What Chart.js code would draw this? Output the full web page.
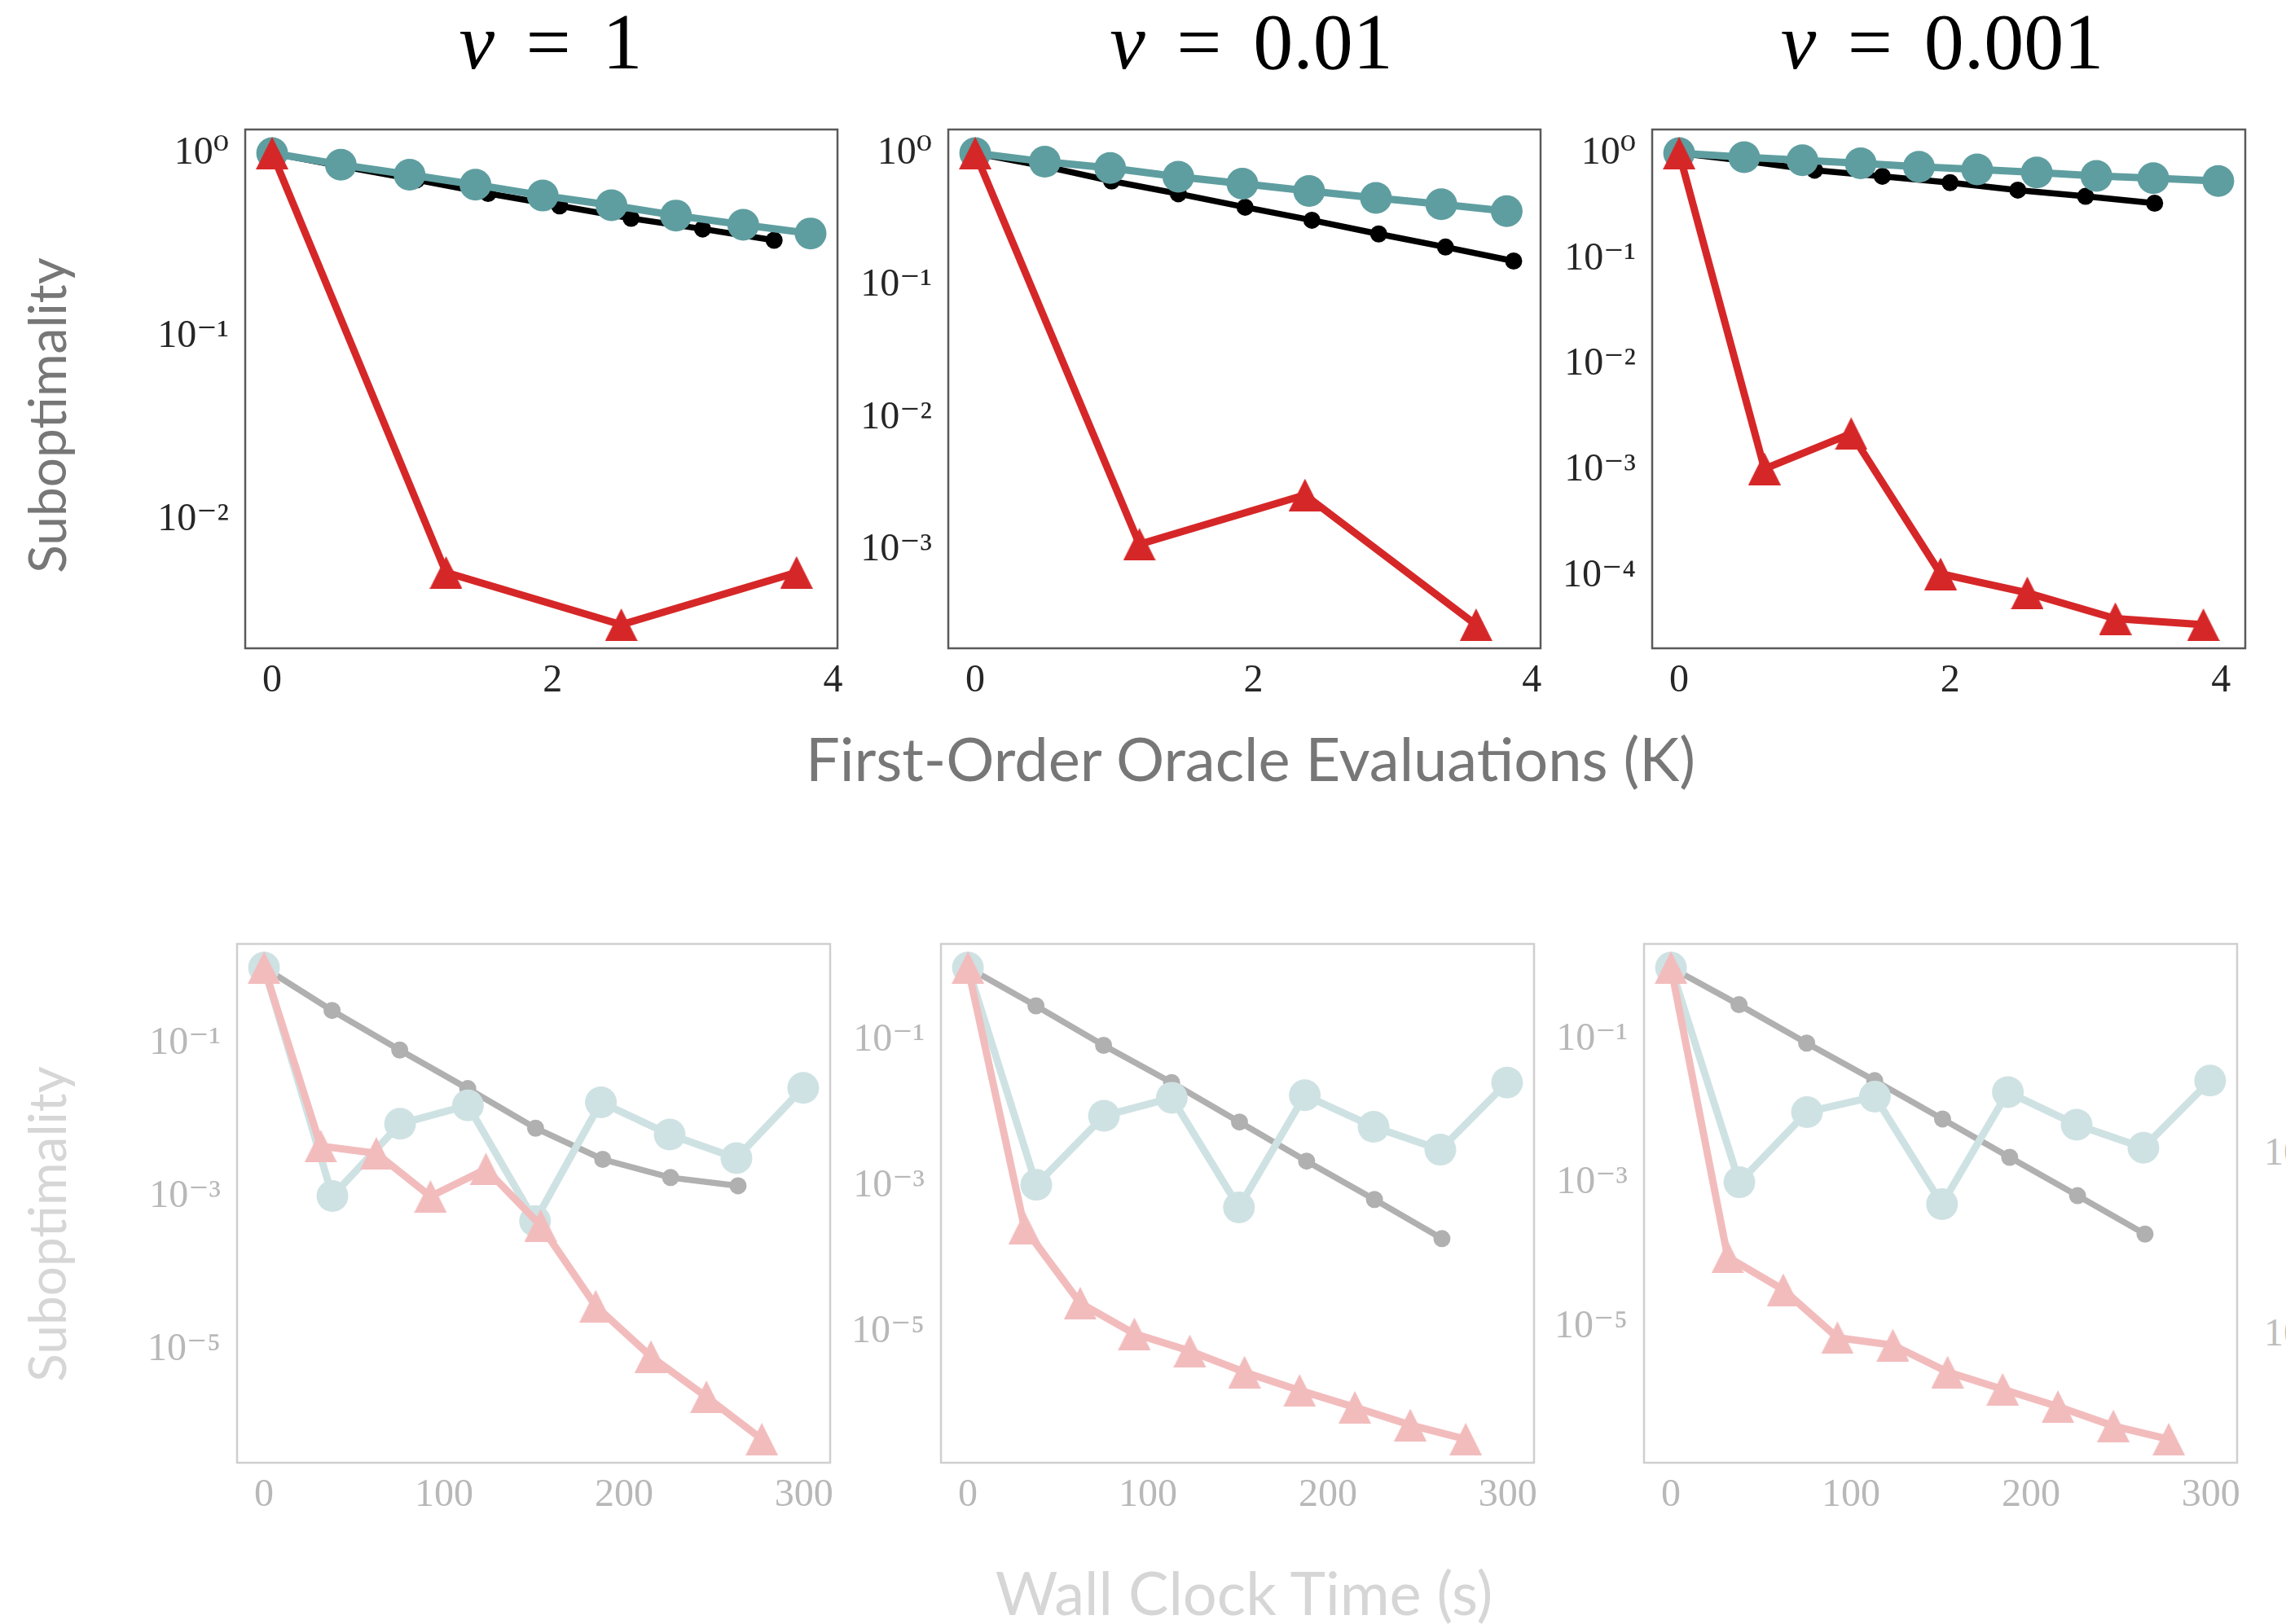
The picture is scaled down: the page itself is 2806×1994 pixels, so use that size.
<!DOCTYPE html>
<html>
<head>
<meta charset="utf-8">
<script src="https://cdn.jsdelivr.net/npm/chart.js@4.4.1/dist/chart.umd.min.js"></script>
<style>
  html, body { margin: 0; padding: 0; background: #fff; }
  body { width: 2806px; height: 1994px; position: relative; overflow: hidden; }
  canvas { position: absolute; }
  .txt { position: absolute; white-space: nowrap; line-height: 1; }
  .title { font-family: 'Liberation Serif', 'DejaVu Serif', serif; font-size: 98px; word-spacing: 14px; color: #000; width: 600px; text-align: center; }
  .axlab { font-family: Lato, 'Open Sans', sans-serif; font-size: 74px; width: 1600px; text-align: center; }
  .ylab { font-family: Lato, 'Open Sans', sans-serif; font-size: 64px; transform: translate(-50%, -50%) rotate(-90deg); }
  .edge { font-family: 'Liberation Serif', 'DejaVu Serif', serif; font-size: 48px; color: #bdbdbd; }
</style>
</head>
<body>
<div class="txt title" style="left:376px; top:2px"><i>ν</i> = 1</div>
<div class="txt title" style="left:1236px; top:2px"><i>ν</i> = 0.01</div>
<div class="txt title" style="left:2084px; top:2px"><i>ν</i> = 0.001</div>
<div class="txt ylab" style="left:57px; top:510px; color:#777">Suboptimality</div>
<div class="txt ylab" style="left:57px; top:1503px; color:#d6d6d6">Suboptimality</div>
<div class="txt axlab" style="left:735px; top:894px; color:#777">First-Order Oracle Evaluations (K)</div>
<div class="txt axlab" style="left:727px; top:1918px; color:#d6d6d6">Wall Clock Time (s)</div>
<div class="txt edge" style="left:2779px; top:1390px">10⁻³</div>
<div class="txt edge" style="left:2779px; top:1612px">10⁻⁵</div>
<script>
// tick values
const oracleTicks = [0, 2, 4];
const timeTicks = [0, 100, 200, 300];
const oracleYTicks1 = [1, 0.1, 0.01];
const oracleYTicks2 = [1, 0.1, 0.01, 0.001];
const oracleYTicks3 = [1, 0.1, 0.01, 0.001, 0.0001];
const timeYTicks = [0.1, 0.001, 0.00001];

// nu = 1, vs first-order oracle evaluations (K)
const oDotsX1 = [0, 0.51, 1.03, 1.54, 2.05, 2.56, 3.07, 3.58];
const oDotsY1 = [1, 0.845, 0.715, 0.603, 0.516, 0.441, 0.386, 0.335];
const oCircX1 = [0, 0.49, 0.98, 1.45, 1.93, 2.42, 2.88, 3.36, 3.84];
const oCircY1 = [1, 0.864, 0.763, 0.673, 0.587, 0.52, 0.457, 0.407, 0.365];
const oTriX1 = [0, 1.24, 2.49, 3.74];
const oTriY1 = [1, 0.0052, 0.0027, 0.0052];

// nu = 0.01
const oDotsX2 = [0, 0.51, 0.98, 1.46, 1.94, 2.42, 2.9, 3.38, 3.87];
const oDotsY2 = [1, 0.79, 0.615, 0.493, 0.39, 0.311, 0.245, 0.195, 0.153];
const oCircX2 = [0, 0.5, 0.97, 1.46, 1.92, 2.4, 2.88, 3.35, 3.82];
const oCircY2 = [1, 0.86, 0.771, 0.662, 0.587, 0.517, 0.458, 0.411, 0.364];
const oTriX2 = [0, 1.18, 2.37, 3.6];
const oTriY2 = [1, 0.00111, 0.00262, 0.000274];

// nu = 0.001
const oDotsX3 = [0, 0.5, 1.0, 1.5, 2.0, 2.5, 3.0, 3.51];
const oDotsY3 = [1, 0.84, 0.69, 0.604, 0.526, 0.447, 0.39, 0.336];
const oCircX3 = [0, 0.48, 0.91, 1.34, 1.77, 2.2, 2.64, 3.08, 3.5, 3.98];
const oCircY3 = [1, 0.915, 0.855, 0.8, 0.743, 0.7, 0.655, 0.608, 0.58, 0.545];
const oTriX3 = [0, 0.63, 1.27, 1.93, 2.57, 3.22, 3.87];
const oTriY3 = [1, 0.00104, 0.00224, 0.000106, 0.00007, 0.00004, 0.000035];

// wall clock time (s), same schedule in every column
const tDotsX = [0, 37.8, 75.4, 113.2, 150.9, 188.2, 225.9, 263.4];
const tCircX = [0, 38.0, 75.6, 113.3, 150.6, 187.2, 225.4, 262.5, 299.6];
const tTriX = [0, 31.5, 62.4, 92.5, 123.3, 153.7, 184.3, 215.0, 245.8, 276.6];

const tDotsY1 = [1, 0.274, 0.0832, 0.026, 0.00789, 0.00308, 0.00178, 0.00139];
const tCircY1 = [1, 0.00102, 0.009, 0.0157, 0.00048, 0.0172, 0.0065, 0.0032, 0.0266];
const tTriY1 = [1, 0.0046, 0.0037, 0.00101, 0.0023, 0.00042, 0.000037, 0.0000081, 0.0000024, 0.00000067];

const tDotsY2 = [1, 0.298, 0.0855, 0.0264, 0.00757, 0.0022, 0.000655, 0.00019];
const tCircY2 = [1, 0.00104, 0.0092, 0.0163, 0.00051, 0.0177, 0.0065, 0.00316, 0.0264];
const tTriY2 = [1, 0.000264, 0.0000248, 0.0000094, 0.00000546, 0.0000028, 0.00000157, 0.00000092, 0.000000526, 0.000000336];

const tDotsY3 = [1, 0.304, 0.0889, 0.0267, 0.00782, 0.00229, 0.000671, 0.000196];
const tCircY3 = [1, 0.00103, 0.00975, 0.016, 0.00051, 0.0185, 0.0065, 0.00311, 0.0267];
const tTriY3 = [1, 0.000094, 0.000033, 0.0000071, 0.0000056, 0.00000236, 0.00000136, 0.00000078, 0.00000042, 0.000000275];

const strong = { dots: '#000000', circ: '#5f9ea0', tri: '#d62728', tick: '#262626', frame: '#5a5a5a' };
const faded = { dots: '#b0b0b0', circ: '#cfe2e3', tri: '#f2bcbd', tick: '#b8b8b8', frame: '#cfcfcf' };

function decadeLabel(v) {
    const sup = { '-': '⁻', '0': '⁰', '1': '¹', '2': '²', '3': '³', '4': '⁴', '5': '⁵', '6': '⁶', '7': '⁷', '8': '⁸', '9': '⁹' };
    const e = Math.round(Math.log10(v));
    return '10' + String(e).split('').map(c => sup[c]).join('');
}

// matplotlib-like 5% margins
function paddedRange(values, log) {
    const t = log ? values.map(Math.log10) : values;
    const lo = Math.min(...t), hi = Math.max(...t);
    const m = (hi - lo) * 0.05;
    return log ? [Math.pow(10, lo - m), Math.pow(10, hi + m)] : [lo - m, hi + m];
}

function triangleImage(size, color) {
    const c = document.createElement('canvas');
    c.width = size; c.height = size;
    const g = c.getContext('2d');
    g.fillStyle = color;
    g.beginPath();
    g.moveTo(size / 2, 0);
    g.lineTo(size, size);
    g.lineTo(0, size);
    g.closePath();
    g.fill();
    return c;
}

const framePlugin = {
    id: 'frame',
    afterDraw(chart, args, opts) {
        const a = chart.chartArea, ctx = chart.ctx;
        ctx.save();
        ctx.strokeStyle = opts.color;
        ctx.lineWidth = opts.width;
        ctx.strokeRect(a.left, a.top, a.right - a.left, a.bottom - a.top);
        ctx.restore();
    }
};

const tickFont = { family: "'Liberation Serif', 'DejaVu Serif', serif", size: 48 };

function makePanel(frame, s, xTicks, yTicks, theme) {
    const padL = 220, padR = 60, padT = 90, padB = 100;
    const cv = document.createElement('canvas');
    cv.width = padL + frame.w + padR;
    cv.height = padT + frame.h + padB;
    cv.style.left = (frame.left - padL) + 'px';
    cv.style.top = (frame.top - padT) + 'px';
    document.body.appendChild(cv);

    const xr = paddedRange([].concat(s.dotsX, s.circX, s.triX), false);
    const yr = paddedRange([].concat(s.dotsY, s.circY, s.triY), true);
    const pts = (xs, ys) => xs.map((x, i) => ({ x: x, y: ys[i] }));
    const common = { tension: 0, fill: false, clip: false, pointBorderWidth: 0 };

    new Chart(cv, {
        type: 'line',
        data: {
            datasets: [
                Object.assign({ data: pts(s.triX, s.triY), borderColor: theme.tri, borderWidth: 9,
                    pointStyle: triangleImage(40, theme.tri), pointRadius: 20 }, common),
                Object.assign({ data: pts(s.circX, s.circY), borderColor: theme.circ, borderWidth: 9,
                    pointStyle: 'circle', pointRadius: 19.5, pointBackgroundColor: theme.circ }, common),
                Object.assign({ data: pts(s.dotsX, s.dotsY), borderColor: theme.dots, borderWidth: 7.5,
                    pointStyle: 'circle', pointRadius: 10.5, pointBackgroundColor: theme.dots }, common)
            ]
        },
        options: {
            responsive: false,
            animation: false,
            layout: { padding: { top: padT, right: padR, left: 0, bottom: 0 } },
            plugins: {
                legend: { display: false },
                tooltip: { enabled: false },
                frame: { color: theme.frame, width: 2.5 }
            },
            scales: {
                x: {
                    type: 'linear', min: xr[0], max: xr[1],
                    afterFit: sc => { sc.height = padB; },
                    afterBuildTicks: sc => { sc.ticks = xTicks.map(v => ({ value: v })); },
                    grid: { display: false, drawTicks: false },
                    border: { display: false },
                    ticks: { padding: 12, color: theme.tick, font: tickFont, maxRotation: 0, autoSkip: false,
                        callback: v => String(v) }
                },
                y: {
                    type: 'logarithmic', min: yr[0], max: yr[1],
                    afterFit: sc => { sc.width = padL; },
                    afterBuildTicks: sc => { sc.ticks = yTicks.map(v => ({ value: v })); },
                    grid: { display: false, drawTicks: false },
                    border: { display: false },
                    ticks: { padding: 20, color: theme.tick, font: tickFont, autoSkip: false,
                        callback: v => decadeLabel(v) }
                }
            }
        },
        plugins: [framePlugin]
    });
}

makePanel({ left: 301, top: 159, w: 727, h: 637 },
    { dotsX: oDotsX1, dotsY: oDotsY1, circX: oCircX1, circY: oCircY1, triX: oTriX1, triY: oTriY1 },
    oracleTicks, oracleYTicks1, strong);
makePanel({ left: 1164, top: 159, w: 727, h: 637 },
    { dotsX: oDotsX2, dotsY: oDotsY2, circX: oCircX2, circY: oCircY2, triX: oTriX2, triY: oTriY2 },
    oracleTicks, oracleYTicks2, strong);
makePanel({ left: 2028, top: 159, w: 728, h: 637 },
    { dotsX: oDotsX3, dotsY: oDotsY3, circX: oCircX3, circY: oCircY3, triX: oTriX3, triY: oTriY3 },
    oracleTicks, oracleYTicks3, strong);

makePanel({ left: 291, top: 1159, w: 728, h: 637 },
    { dotsX: tDotsX, dotsY: tDotsY1, circX: tCircX, circY: tCircY1, triX: tTriX, triY: tTriY1 },
    timeTicks, timeYTicks, faded);
makePanel({ left: 1155, top: 1159, w: 728, h: 637 },
    { dotsX: tDotsX, dotsY: tDotsY2, circX: tCircX, circY: tCircY2, triX: tTriX, triY: tTriY2 },
    timeTicks, timeYTicks, faded);
makePanel({ left: 2018, top: 1159, w: 728, h: 637 },
    { dotsX: tDotsX, dotsY: tDotsY3, circX: tCircX, circY: tCircY3, triX: tTriX, triY: tTriY3 },
    timeTicks, timeYTicks, faded);
</script>
</body>
</html>
